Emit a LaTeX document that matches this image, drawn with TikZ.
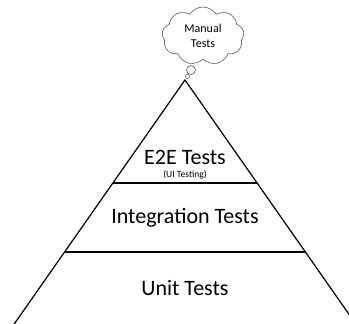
\documentclass[tikz,border=0pt]{standalone}
\usepackage{fontspec}
\setmainfont{Carlito}
\usetikzlibrary{shapes.symbols,calc}

\tikzset{
  side/.style={line width=1.2pt},
  layer/.style={line width=1.2pt},
  big/.style={font=\fontsize{22}{26}\selectfont},
  small/.style={font=\fontsize{9.5}{11}\selectfont},
  thought/.style={draw=black!65,line width=0.6pt,fill=white}
}

\begin{document}
\begin{tikzpicture}[x=1pt,y=-1pt]
  \useasboundingbox (0,0) rectangle (349,324);
  \clip (0,0) rectangle (349,324);
  \coordinate (top) at (185,80);
  \coordinate (left) at (10,330);
  \coordinate (right) at (360,330);
  % pyramid
  \draw[side] (left) -- (top) -- (right);
  \draw[layer] ($(top)!0.412!(left)$) -- ($(top)!0.412!(right)$);
  \draw[layer] ($(top)!0.688!(left)$) -- ($(top)!0.688!(right)$);
  \node[big] (e2e) at (185,157) {E2E Tests};
  \node[small] (ui) at (185,175) {(UI Testing)};
  \node[big] (integration) at (185,218) {Integration Tests};
  \node[big] (unit) at (185,288) {Unit Tests};
  % cloud
  \node[thought,cloud,cloud puffs=9,cloud puff arc=115,aspect=1.4,
        minimum width=82pt,minimum height=58pt,align=center,
        font=\fontsize{12}{15}\selectfont] (manual) at (203,36) {Manual\\Tests};
  \node[thought,circle,inner sep=0pt,minimum size=9pt] (bub1) at (191,70) {};
  \node[thought,circle,inner sep=0pt,minimum size=4pt] (bub2) at (187.5,76.5) {};
\end{tikzpicture}
\end{document}
